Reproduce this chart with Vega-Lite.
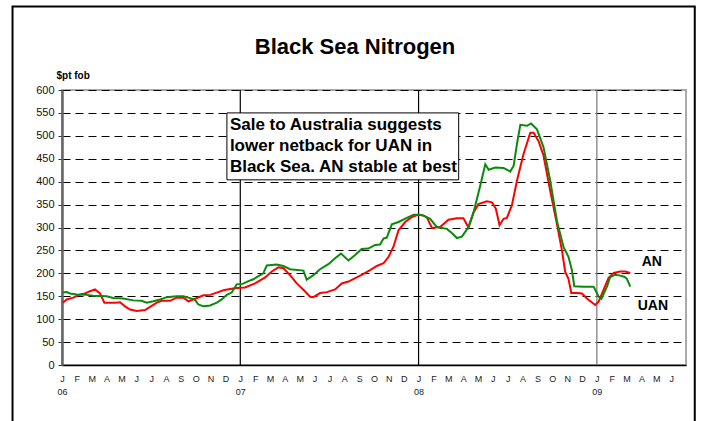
{
  "$schema": "https://vega.github.io/schema/vega-lite/v6.json",
  "autosize": "none",
  "width": 624,
  "height": 275,
  "padding": {"left": 62, "top": 90, "right": 16, "bottom": 56},
  "background": "white",
  "config": {
    "view": {"stroke": "#aaaaaa", "strokeWidth": 2},
    "font": "Liberation Sans",
    "axisX": {"tickCount": 42, "labelExpr": "datum.value >= 42 ? '' : [['J','F','M','A','M','J','J','A','S','O','N','D'][datum.value % 12], datum.value % 12 == 0 ? '0' + (6 + datum.value / 12) : '']",
      "labelFontSize": 9, "labelColor": "#222222", "labelFont": "Liberation Sans", "labelAlign": "center", "labelBaseline": "top", "labelPadding": 9, "labelLineHeight": 13, "labelOverlap": false, "labelFlush": false,
      "ticks": false, "tickSize": 0, "domainColor": "#000000", "domainWidth": 1.5, "grid": false},
    "axisY": {"tickCount": 12, "titleAngle": 0, "titleAlign": "left", "titleBaseline": "alphabetic", "titleX": -6, "titleY": -12, "titleFontSize": 10, "titleFontWeight": "bold", "titleFont": "Liberation Sans", "titleColor": "#000000",
      "labelFontSize": 11, "labelColor": "#111111", "labelFont": "Liberation Sans", "labelPadding": 4, "labelOverlap": false, "tickSize": 4, "tickColor": "#333333", "domainColor": "#666666", "domainWidth": 2.5,
      "grid": true, "gridColor": "#000000", "gridDash": [8, 5], "gridWidth": 1}
  },
  "title": {"text": "Black Sea Nitrogen", "fontSize": 22, "fontWeight": "bold", "font": "Liberation Sans", "anchor": "middle", "frame": "group", "offset": -53, "dx": -19, "color": "#000000"},
  "layer": [
    {
      "data": {"values": [{}]},
      "mark": {"type": "rect", "fill": null, "stroke": "#000000", "strokeWidth": 2, "clip": false},
      "encoding": {
        "x": {"datum": -3.33, "type": "quantitative", "title": null, "scale": {"domain": [0, 42], "nice": false, "zero": false}},
        "x2": {"datum": 42.59},
        "y": {"datum": 782, "type": "quantitative", "title": "$pt fob", "scale": {"domain": [0, 600], "nice": false}},
        "y2": {"datum": -200}
      }
    },
    {
      "data": {"values": [{"year": 12, "tone": "a"}, {"year": 24, "tone": "a"}, {"year": 36, "tone": "b"}]},
      "mark": {"type": "rule", "strokeWidth": 1.2},
      "encoding": {
        "x": {"field": "year", "type": "quantitative", "title": null},
        "color": {"condition": {"test": "datum.tone == 'b'", "value": "#777777"}, "value": "#000000"}
      }
    },
    {
      "data": {"values": [
        {"series": "AN", "m": 0.05, "v": 136}, {"series": "AN", "m": 0.32, "v": 143}, {"series": "AN", "m": 0.76, "v": 147}, {"series": "AN", "m": 1.21, "v": 154}, {"series": "AN", "m": 1.55, "v": 156}, {"series": "AN", "m": 1.89, "v": 161}, {"series": "AN", "m": 2.22, "v": 165}, {"series": "AN", "m": 2.56, "v": 156}, {"series": "AN", "m": 2.85, "v": 136}, {"series": "AN", "m": 3.23, "v": 136}, {"series": "AN", "m": 3.57, "v": 136}, {"series": "AN", "m": 3.91, "v": 137}, {"series": "AN", "m": 4.24, "v": 128}, {"series": "AN", "m": 4.58, "v": 121}, {"series": "AN", "m": 5.03, "v": 118}, {"series": "AN", "m": 5.59, "v": 120}, {"series": "AN", "m": 5.93, "v": 127}, {"series": "AN", "m": 6.38, "v": 136}, {"series": "AN", "m": 6.71, "v": 140}, {"series": "AN", "m": 7.27, "v": 140}, {"series": "AN", "m": 7.72, "v": 147}, {"series": "AN", "m": 8.17, "v": 147}, {"series": "AN", "m": 8.51, "v": 139}, {"series": "AN", "m": 8.84, "v": 143}, {"series": "AN", "m": 9.52, "v": 152}, {"series": "AN", "m": 9.97, "v": 153}, {"series": "AN", "m": 10.42, "v": 158}, {"series": "AN", "m": 10.86, "v": 163}, {"series": "AN", "m": 11.31, "v": 166}, {"series": "AN", "m": 11.76, "v": 168}, {"series": "AN", "m": 12.32, "v": 169}, {"series": "AN", "m": 13.0, "v": 178}, {"series": "AN", "m": 13.67, "v": 191}, {"series": "AN", "m": 14.12, "v": 204}, {"series": "AN", "m": 14.57, "v": 213}, {"series": "AN", "m": 14.9, "v": 211}, {"series": "AN", "m": 15.35, "v": 196}, {"series": "AN", "m": 15.8, "v": 178}, {"series": "AN", "m": 16.25, "v": 164}, {"series": "AN", "m": 16.7, "v": 149}, {"series": "AN", "m": 16.92, "v": 148}, {"series": "AN", "m": 17.37, "v": 157}, {"series": "AN", "m": 17.83, "v": 159}, {"series": "AN", "m": 18.38, "v": 165}, {"series": "AN", "m": 18.83, "v": 178}, {"series": "AN", "m": 19.28, "v": 182}, {"series": "AN", "m": 19.84, "v": 191}, {"series": "AN", "m": 20.29, "v": 199}, {"series": "AN", "m": 20.74, "v": 207}, {"series": "AN", "m": 21.19, "v": 216}, {"series": "AN", "m": 21.64, "v": 222}, {"series": "AN", "m": 21.98, "v": 236}, {"series": "AN", "m": 22.31, "v": 258}, {"series": "AN", "m": 22.65, "v": 294}, {"series": "AN", "m": 23.1, "v": 312}, {"series": "AN", "m": 23.55, "v": 323}, {"series": "AN", "m": 24.0, "v": 328}, {"series": "AN", "m": 24.35, "v": 326}, {"series": "AN", "m": 24.56, "v": 322}, {"series": "AN", "m": 24.9, "v": 299}, {"series": "AN", "m": 25.45, "v": 301}, {"series": "AN", "m": 26.01, "v": 317}, {"series": "AN", "m": 26.58, "v": 320}, {"series": "AN", "m": 27.02, "v": 320}, {"series": "AN", "m": 27.36, "v": 300}, {"series": "AN", "m": 27.7, "v": 333}, {"series": "AN", "m": 28.03, "v": 351}, {"series": "AN", "m": 28.6, "v": 357}, {"series": "AN", "m": 28.94, "v": 355}, {"series": "AN", "m": 29.2, "v": 341}, {"series": "AN", "m": 29.45, "v": 305}, {"series": "AN", "m": 29.72, "v": 319}, {"series": "AN", "m": 29.94, "v": 321}, {"series": "AN", "m": 30.28, "v": 348}, {"series": "AN", "m": 30.62, "v": 402}, {"series": "AN", "m": 31.06, "v": 460}, {"series": "AN", "m": 31.52, "v": 507}, {"series": "AN", "m": 31.74, "v": 507}, {"series": "AN", "m": 32.07, "v": 489}, {"series": "AN", "m": 32.41, "v": 457}, {"series": "AN", "m": 32.86, "v": 380}, {"series": "AN", "m": 33.31, "v": 308}, {"series": "AN", "m": 33.65, "v": 250}, {"series": "AN", "m": 33.87, "v": 203}, {"series": "AN", "m": 34.09, "v": 188}, {"series": "AN", "m": 34.28, "v": 157}, {"series": "AN", "m": 34.66, "v": 157}, {"series": "AN", "m": 35.0, "v": 156}, {"series": "AN", "m": 35.33, "v": 145}, {"series": "AN", "m": 35.89, "v": 131}, {"series": "AN", "m": 36.12, "v": 138}, {"series": "AN", "m": 36.45, "v": 164}, {"series": "AN", "m": 36.79, "v": 190}, {"series": "AN", "m": 37.13, "v": 201}, {"series": "AN", "m": 37.58, "v": 204}, {"series": "AN", "m": 37.91, "v": 204}, {"series": "AN", "m": 38.25, "v": 201},
        {"series": "UAN", "m": 0.05, "v": 158}, {"series": "UAN", "m": 0.32, "v": 159}, {"series": "UAN", "m": 0.54, "v": 156}, {"series": "UAN", "m": 0.98, "v": 154}, {"series": "UAN", "m": 1.66, "v": 153}, {"series": "UAN", "m": 2.1, "v": 151}, {"series": "UAN", "m": 3.0, "v": 150}, {"series": "UAN", "m": 3.45, "v": 146}, {"series": "UAN", "m": 4.12, "v": 145}, {"series": "UAN", "m": 4.8, "v": 141}, {"series": "UAN", "m": 5.36, "v": 140}, {"series": "UAN", "m": 5.7, "v": 136}, {"series": "UAN", "m": 6.15, "v": 139}, {"series": "UAN", "m": 6.6, "v": 143}, {"series": "UAN", "m": 7.05, "v": 148}, {"series": "UAN", "m": 7.72, "v": 150}, {"series": "UAN", "m": 8.17, "v": 150}, {"series": "UAN", "m": 8.62, "v": 146}, {"series": "UAN", "m": 8.95, "v": 142}, {"series": "UAN", "m": 9.18, "v": 132}, {"series": "UAN", "m": 9.52, "v": 128}, {"series": "UAN", "m": 9.97, "v": 130}, {"series": "UAN", "m": 10.42, "v": 136}, {"series": "UAN", "m": 10.75, "v": 143}, {"series": "UAN", "m": 11.09, "v": 153}, {"series": "UAN", "m": 11.42, "v": 158}, {"series": "UAN", "m": 11.76, "v": 176}, {"series": "UAN", "m": 12.16, "v": 177}, {"series": "UAN", "m": 12.55, "v": 183}, {"series": "UAN", "m": 12.88, "v": 187}, {"series": "UAN", "m": 13.22, "v": 194}, {"series": "UAN", "m": 13.55, "v": 200}, {"series": "UAN", "m": 13.78, "v": 217}, {"series": "UAN", "m": 14.45, "v": 219}, {"series": "UAN", "m": 14.9, "v": 216}, {"series": "UAN", "m": 15.35, "v": 209}, {"series": "UAN", "m": 16.25, "v": 206}, {"series": "UAN", "m": 16.47, "v": 186}, {"series": "UAN", "m": 16.92, "v": 196}, {"series": "UAN", "m": 17.37, "v": 209}, {"series": "UAN", "m": 17.93, "v": 220}, {"series": "UAN", "m": 18.38, "v": 233}, {"series": "UAN", "m": 18.78, "v": 243}, {"series": "UAN", "m": 19.28, "v": 228}, {"series": "UAN", "m": 19.73, "v": 240}, {"series": "UAN", "m": 20.17, "v": 253}, {"series": "UAN", "m": 20.62, "v": 254}, {"series": "UAN", "m": 21.07, "v": 262}, {"series": "UAN", "m": 21.41, "v": 263}, {"series": "UAN", "m": 21.64, "v": 276}, {"series": "UAN", "m": 21.86, "v": 278}, {"series": "UAN", "m": 22.2, "v": 307}, {"series": "UAN", "m": 22.65, "v": 312}, {"series": "UAN", "m": 23.21, "v": 321}, {"series": "UAN", "m": 23.66, "v": 328}, {"series": "UAN", "m": 24.1, "v": 328}, {"series": "UAN", "m": 24.33, "v": 326}, {"series": "UAN", "m": 24.78, "v": 319}, {"series": "UAN", "m": 25.23, "v": 301}, {"series": "UAN", "m": 25.9, "v": 297}, {"series": "UAN", "m": 26.24, "v": 288}, {"series": "UAN", "m": 26.58, "v": 277}, {"series": "UAN", "m": 26.92, "v": 280}, {"series": "UAN", "m": 27.36, "v": 301}, {"series": "UAN", "m": 27.7, "v": 333}, {"series": "UAN", "m": 28.15, "v": 391}, {"series": "UAN", "m": 28.49, "v": 438}, {"series": "UAN", "m": 28.72, "v": 426}, {"series": "UAN", "m": 29.16, "v": 431}, {"series": "UAN", "m": 29.72, "v": 430}, {"series": "UAN", "m": 30.17, "v": 422}, {"series": "UAN", "m": 30.4, "v": 435}, {"series": "UAN", "m": 30.62, "v": 482}, {"series": "UAN", "m": 30.85, "v": 524}, {"series": "UAN", "m": 31.3, "v": 522}, {"series": "UAN", "m": 31.57, "v": 527}, {"series": "UAN", "m": 31.97, "v": 514}, {"series": "UAN", "m": 32.41, "v": 475}, {"series": "UAN", "m": 32.86, "v": 402}, {"series": "UAN", "m": 33.31, "v": 315}, {"series": "UAN", "m": 33.76, "v": 257}, {"series": "UAN", "m": 34.09, "v": 236}, {"series": "UAN", "m": 34.32, "v": 207}, {"series": "UAN", "m": 34.48, "v": 172}, {"series": "UAN", "m": 35.11, "v": 171}, {"series": "UAN", "m": 35.78, "v": 171}, {"series": "UAN", "m": 36.12, "v": 149}, {"series": "UAN", "m": 36.3, "v": 144}, {"series": "UAN", "m": 36.68, "v": 171}, {"series": "UAN", "m": 36.9, "v": 192}, {"series": "UAN", "m": 37.24, "v": 197}, {"series": "UAN", "m": 37.58, "v": 195}, {"series": "UAN", "m": 37.87, "v": 192}, {"series": "UAN", "m": 38.02, "v": 188}, {"series": "UAN", "m": 38.25, "v": 171}
      ]},
      "mark": {"type": "line", "strokeWidth": 2},
      "encoding": {
        "x": {"field": "m", "type": "quantitative", "title": null},
        "y": {"field": "v", "type": "quantitative", "title": "$pt fob"},
        "color": {"field": "series", "type": "nominal", "scale": {"domain": ["AN", "UAN"], "range": ["#ff0000", "#0a8a0a"]}, "legend": null}
      }
    },
    {
      "data": {"values": [{}]},
      "mark": {"type": "rect", "fill": "white", "stroke": "#000000", "strokeWidth": 1},
      "encoding": {
        "x": {"datum": 11.1, "type": "quantitative", "title": null},
        "x2": {"datum": 26.7},
        "y": {"datum": 550, "type": "quantitative", "title": "$pt fob"},
        "y2": {"datum": 404}
      }
    },
    {
      "data": {"values": [{"note": "Sale to Australia suggests\nlower netback for UAN in\nBlack Sea. AN stable at best"}]},
      "mark": {"type": "text", "align": "left", "baseline": "middle", "fontSize": 17, "fontWeight": "bold", "font": "Liberation Sans", "lineBreak": "\n", "lineHeight": 21, "color": "#000000"},
      "encoding": {
        "x": {"datum": 11.3, "type": "quantitative", "title": null},
        "y": {"datum": 523, "type": "quantitative", "title": "$pt fob"},
        "text": {"field": "note"}
      }
    },
    {
      "data": {"values": [{"label": "AN"}]},
      "mark": {"type": "text", "align": "center", "baseline": "middle", "fontSize": 14, "fontWeight": "bold", "font": "Liberation Sans", "color": "#000000"},
      "encoding": {
        "x": {"datum": 39.7, "type": "quantitative", "title": null},
        "y": {"datum": 225, "type": "quantitative", "title": "$pt fob"},
        "text": {"field": "label"}
      }
    },
    {
      "data": {"values": [{"label": "UAN"}]},
      "mark": {"type": "text", "align": "center", "baseline": "middle", "fontSize": 14, "fontWeight": "bold", "font": "Liberation Sans", "color": "#000000"},
      "encoding": {
        "x": {"datum": 39.77, "type": "quantitative", "title": null},
        "y": {"datum": 129, "type": "quantitative", "title": "$pt fob"},
        "text": {"field": "label"}
      }
    }
  ]
}
